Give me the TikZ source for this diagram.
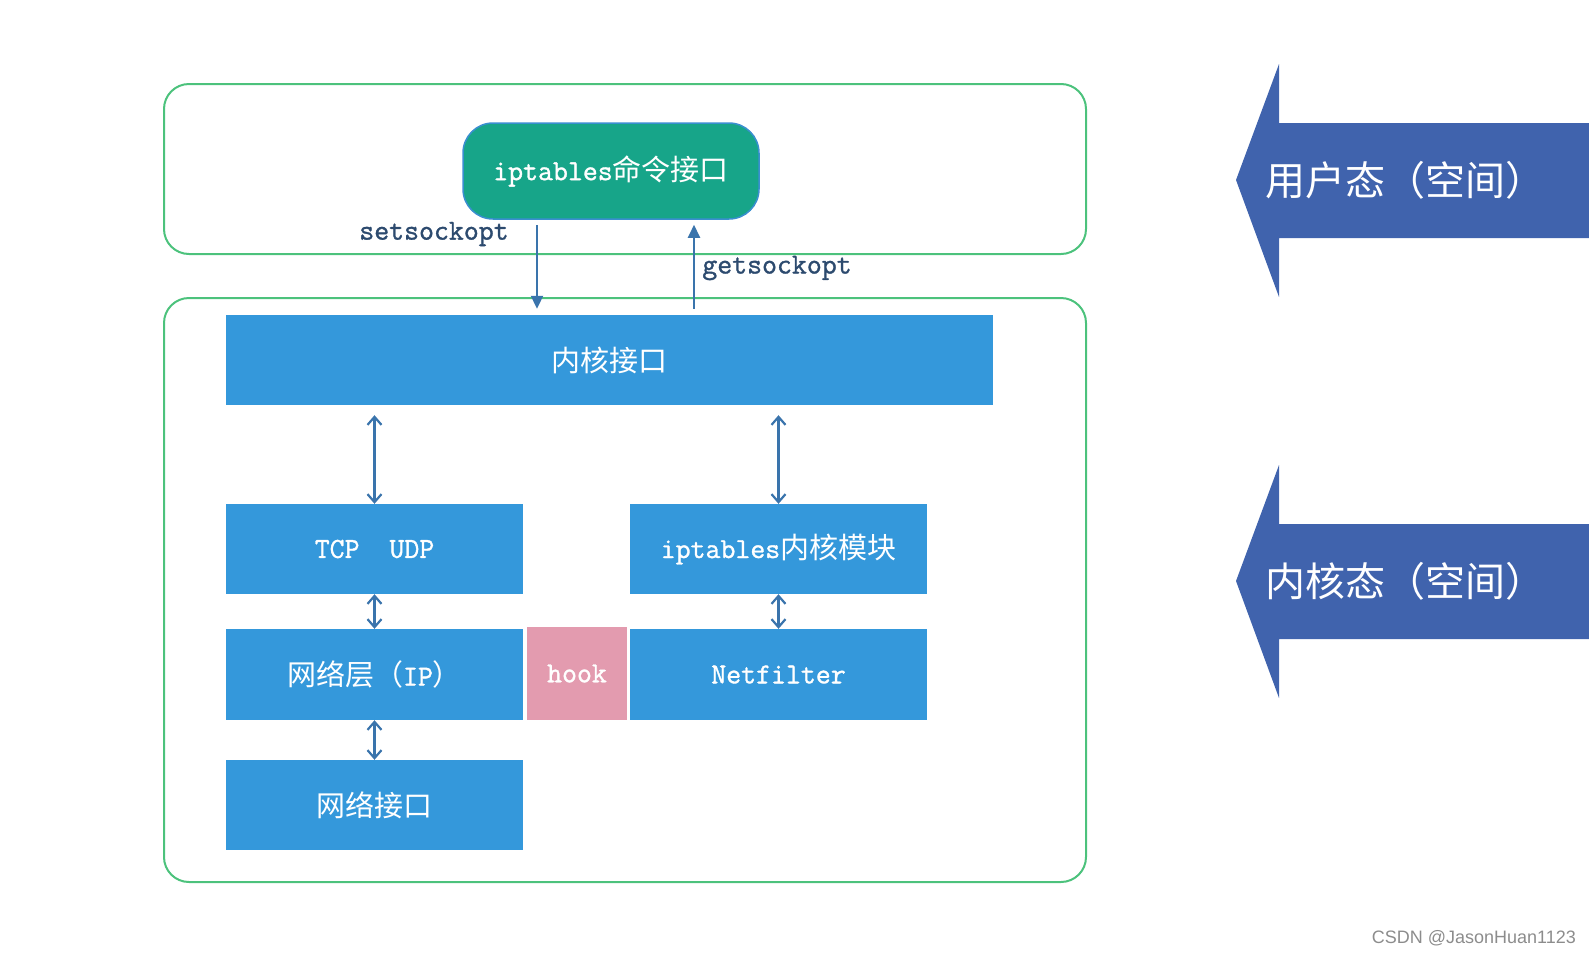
\documentclass[tikz,border=0pt]{standalone}
\usepackage{fontspec}
\newfontfamily\cjk{Noto Sans CJK SC}
\newfontfamily\mono[FakeBold=1.2]{Latin Modern Mono}
\newfontfamily\wmark{Liberation Sans}
\usetikzlibrary{arrows.meta}
\definecolor{frame}{HTML}{4CC27C}
\definecolor{cmdfill}{HTML}{17A589}
\definecolor{cmdline}{HTML}{3A8FD0}
\definecolor{blk}{HTML}{3498DB}
\definecolor{hookfill}{HTML}{E39BAF}
\definecolor{link}{HTML}{3A74AC}
\definecolor{side}{HTML}{4063AD}
\definecolor{lbl}{HTML}{2C4A6E}
\begin{document}
\begin{tikzpicture}[x=1pt, y=-1pt,
    layer/.style={draw=frame, line width=2pt, rounded corners=25pt},
    blk/.style={fill=blk, text=white, minimum width=297pt, minimum height=90pt, inner sep=0pt, font=\fontsize{29}{29}\selectfont},
    link/.style={draw=link, line width=2.2pt, {Straight Barb[length=8pt,width=14pt]}-{Straight Barb[length=8pt,width=14pt]}},
    sock/.style={draw=link, line width=2pt, -{Triangle[length=13pt,width=12pt]}},
    lbl/.style={text=lbl, inner sep=0pt, font=\mono\fontsize{29}{29}\selectfont},
    sidetxt/.style={text=white, inner sep=0pt, anchor=west, font=\cjk\fontsize{40}{40}\selectfont}]
    \useasboundingbox (0,0) rectangle (1589,956);

    % user space / kernel space frames
    \draw[layer] (164,84) rectangle (1086,254);
    \draw[layer] (164,298) rectangle (1086,882);

    \node[blk, fill=cmdfill, draw=cmdline, line width=1.5pt, rounded corners=30pt, minimum width=296pt, minimum height=96pt] (cmd) at (611,171) {\mono iptables\cjk 命令接口};
    \node[blk, minimum width=767pt] (kif) at (609.5,360) {\cjk 内核接口};
    \node[blk] (tcp) at (374.5,549) {\mono TCP\ \ UDP};
    \node[blk] (ipk) at (778.5,549) {\mono iptables\cjk 内核模块};
    \node[blk, minimum height=91pt] (ip) at (374.5,674.5) {\cjk 网络层（\mono IP\cjk ）};
    \node[blk, fill=hookfill, minimum width=100pt, minimum height=93pt] (hook) at (577,673.5) {\mono hook};
    \node[blk, minimum height=91pt] (nf) at (778.5,674.5) {\mono Netfilter};
    \node[blk] (nic) at (374.5,805) {\cjk 网络接口};

    % socket calls between user and kernel
    \coordinate (set) at ([xshift=-74pt]cmd.south);
    \coordinate (get) at ([xshift=83pt]cmd.south);
    \draw[sock, shorten <=5pt, shorten >=6pt] (set) -- (set |- kif.north);
    \draw[sock, shorten <=6pt, shorten >=5pt] (get |- kif.north) -- (get);
    \node[lbl] (setl) at (434,234) {setsockopt};
    \node[lbl] (getl) at (777,268) {getsockopt};

    \draw[link, shorten <=10pt] (tcp.north |- kif.south) -- (tcp.north);
    \draw[link, shorten <=10pt] (ipk.north |- kif.south) -- (ipk.north);
    \draw[link] (tcp) -- (ip);
    \draw[link] (ipk) -- (nf);
    \draw[link] (ip) -- (nic);

    % side arrows
    \foreach \y/\name/\txt in {180/user/用户态（空间）, 581/kern/内核态（空间）} {
        \fill[side] (1236,\y) -- (1279,\y-116) -- (1279,\y-57) -- (1589,\y-57)
            -- (1589,\y+58) -- (1279,\y+58) -- (1279,\y+117) -- cycle;
        \node[sidetxt] (\name) at (1265,\y) {\txt};
    }

    \node[anchor=east, inner sep=0pt, text=black!45, font=\wmark\fontsize{18}{18}\selectfont] (mark) at (1576,938) {CSDN @JasonHuan1123};
\end{tikzpicture}
\end{document}
